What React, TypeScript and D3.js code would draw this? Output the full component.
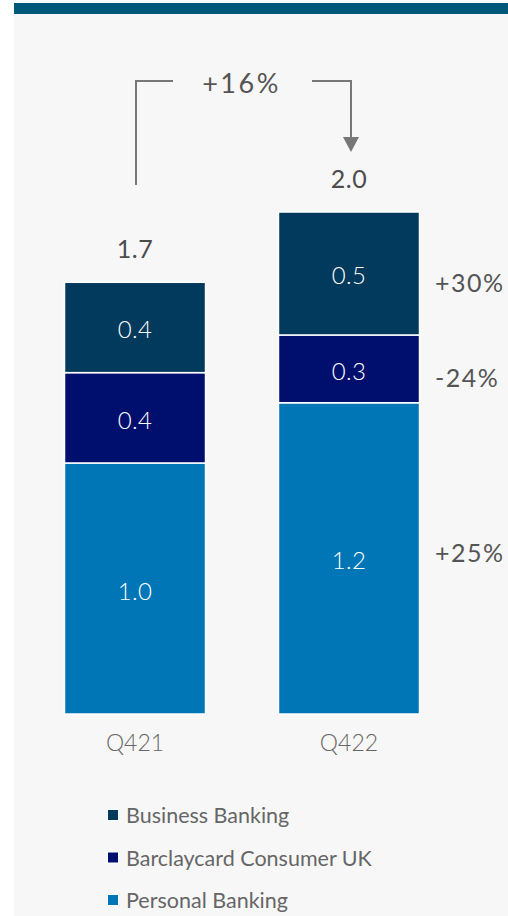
import React from "react";
import * as d3 from "d3";

const categories = ["Q421", "Q422"];
const seriesNames = ["Personal Banking", "Barclaycard Consumer UK", "Business Banking"];
const personalBanking = [1.0, 1.24];
const barclaycardUK = [0.36, 0.27];
const businessBanking = [0.36, 0.49];
const totals = [1.7, 2.0];
const changeLabels = ["+25%", "-24%", "+30%"];
const totalChange = "+16%";
const colors = ["#0076B6", "#000F6E", "#013A5C"];

const FONT = "Lato, 'Open Sans', sans-serif";

export default function App() {
  const W = 508, H = 916;
  const x = d3.scaleBand<string>().domain(categories).range([64.5, 419.5]).paddingInner(0.341).paddingOuter(0);
  const y = d3.scaleLinear().domain([0, 2]).range([714, 212]);

  const table = categories.map((c, i) => ({
    cat: c,
    "Personal Banking": personalBanking[i],
    "Barclaycard Consumer UK": barclaycardUK[i],
    "Business Banking": businessBanking[i],
  }));
  const stack = d3.stack<any>().keys(seriesNames)(table);
  const bw = x.bandwidth();
  const lastIdx = categories.length - 1;
  const changeDy = [-6, 8, 9];

  const x0 = x(categories[0])! + bw / 2 + 1;
  const x1 = x(categories[1])! + bw / 2 + 2;
  const arrowY = 81;

  return (
    <svg width={W} height={H} style={{ position: "absolute", left: 0, top: 0 }}>
      <rect x={0} y={0} width={W} height={H} fill="#ffffff" />
      <rect x={14} y={14} width={W - 14} height={H - 14} fill="#f7f7f7" />
      <rect x={14} y={3} width={W - 14} height={11} fill="#00587A" />

      {stack.map((s, si) => (
        <g key={s.key}>
          {s.map((d, i) => {
            const top = y(d[1]);
            const bot = y(d[0]);
            return (
              <g key={i}>
                <rect x={x(categories[i])} y={top} width={bw} height={bot - top} fill={colors[si]} stroke="#ffffff" strokeWidth={1.5} />
                <text x={x(categories[i])! + bw / 2} y={(top + bot) / 2 + 1.5} textAnchor="middle" dominantBaseline="central"
                  fill="#ffffff" fontFamily={FONT} fontSize={24} fontWeight={300} letterSpacing={0.3}>
                  {d3.format(".1f")(d[1] - d[0])}
                </text>
              </g>
            );
          })}
          <text x={435} y={(y(s[lastIdx][0]) + y(s[lastIdx][1])) / 2 + changeDy[si]} dominantBaseline="central"
            fill="#555555" fontFamily={FONT} fontSize={25} letterSpacing={1.5}>
            {changeLabels[si]}
          </text>
        </g>
      ))}

      {categories.map((c, i) => (
        <g key={c}>
          <text x={x(c)! + bw / 2} y={y(d3.sum(seriesNames.map((_, si) => stack[si][i][1] - stack[si][i][0]))) - 34}
            textAnchor="middle" dominantBaseline="central" fill="#4d4d4d" fontFamily={FONT} fontSize={25} letterSpacing={0.5}>
            {d3.format(".1f")(totals[i])}
          </text>
          <text x={x(c)! + bw / 2} y={742} textAnchor="middle" dominantBaseline="central"
            fill="#666666" fontFamily={FONT} fontSize={23} fontWeight={300}>
            {c}
          </text>
        </g>
      ))}

      <path d={`M${x0},185 V${arrowY} H${x0 + 37}`} fill="none" stroke="#777777" strokeWidth={2} />
      <path d={`M${x1 - 39},${arrowY} H${x1} V138`} fill="none" stroke="#777777" strokeWidth={2} />
      <path d={`M${x1 - 8},137 L${x1 + 8},137 L${x1},152 Z`} fill="#777777" />
      <text x={241.5} y={arrowY + 1} textAnchor="middle" dominantBaseline="central"
        fill="#555555" fontFamily={FONT} fontSize={27} letterSpacing={2.5}>
        {totalChange}
      </text>

      {[2, 1, 0].map((si, k) => (
        <g key={si} transform={`translate(107, ${815 + k * 42.5})`}>
          <rect x={0.5} y={-5.5} width={11} height={11} fill={colors[si]} stroke="#ffffff" strokeWidth={1} />
          <text x={19} y={0} dominantBaseline="central" fill="#666666" fontFamily={FONT} fontSize={21.5}>
            {seriesNames[si]}
          </text>
        </g>
      ))}
    </svg>
  );
}
